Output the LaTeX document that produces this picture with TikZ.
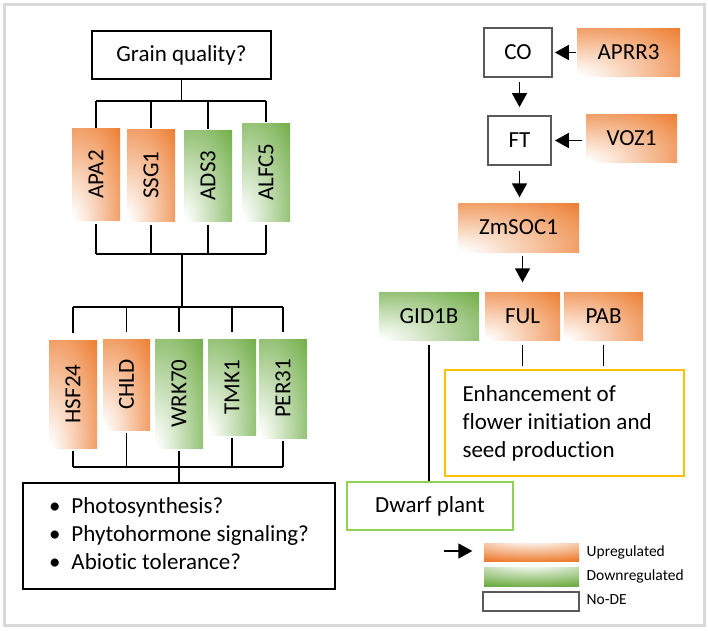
\documentclass[tikz,border=0pt]{standalone}
\usepackage{fontspec}
\setmainfont{Carlito}[Ligatures=NoCommon]
\usepackage{graphicx}
\usetikzlibrary{arrows.meta}
\definecolor{upor}{HTML}{ED7D31}
\definecolor{downgr}{HTML}{70AD47}
\definecolor{nodegr}{HTML}{595959}
\definecolor{enhor}{HTML}{FFC000}
\definecolor{dwarfgr}{HTML}{92D050}
\pgfdeclareradialshading{upshade}{\pgfpoint{-30bp}{-30bp}}{color(0bp)=(white); color(6bp)=(white); color(55bp)=(upor); color(100bp)=(upor)}
\pgfdeclareradialshading{downshade}{\pgfpoint{-30bp}{-30bp}}{color(0bp)=(white); color(6bp)=(white); color(55bp)=(downgr); color(100bp)=(downgr)}
\pgfdeclareradialshading{uplegend}{\pgfpoint{0bp}{45bp}}{color(0bp)=(white); color(8bp)=(white); color(50bp)=(upor); color(100bp)=(upor)}
\pgfdeclareradialshading{downlegend}{\pgfpoint{0bp}{45bp}}{color(0bp)=(white); color(8bp)=(white); color(50bp)=(downgr); color(100bp)=(downgr)}
\begin{document}
\begin{tikzpicture}[x=1pt, y=-1pt, line width=1.4pt, font=\fontsize{23}{28}\selectfont,
  every node/.style={inner sep=0pt},
  upgene/.style={shading=upshade},
  downgene/.style={shading=downshade},
  plainbox/.style={draw=black, line width=1.6pt},
  nodebox/.style={draw=nodegr, line width=1.8pt},
  arr/.style={-{Triangle[width=15pt,length=14pt]}, line width=1.6pt},
  legtext/.style={anchor=west, font=\fontsize{15.5}{18}\selectfont}]
\useasboundingbox (0,0) rectangle (708,630);
\fill[white] (0,0) rectangle (708,630);
\draw[line width=3pt, black!15] (4,4) rectangle (704,625);
\node[plainbox, minimum width=179pt, minimum height=48pt] (grain) at (181.5,55) {Grain quality?};
\node[upgene, minimum width=48pt, minimum height=92pt] (APA2) at (96,174.5) {\rotatebox{90}{APA2}};
\node[upgene, minimum width=48pt, minimum height=92pt] (SSG1) at (151,175) {\rotatebox{90}{SSG1}};
\node[downgene, minimum width=48pt, minimum height=91pt] (ADS3) at (208,175.5) {\rotatebox{90}{ADS3}};
\node[downgene, minimum width=48pt, minimum height=98pt] (ALFC5) at (266,172) {\rotatebox{90}{ALFC5}};
\node[upgene, minimum width=48pt, minimum height=108pt] (HSF24) at (73,394) {\rotatebox{90}{HSF24}};
\node[upgene, minimum width=47pt, minimum height=91pt] (CHLD) at (126.5,384.5) {\rotatebox{90}{CHLD}};
\node[downgene, minimum width=48pt, minimum height=109pt] (WRK70) at (179,393.5) {\rotatebox{90}{WRK70}};
\node[downgene, minimum width=48pt, minimum height=96pt] (TMK1) at (232,387) {\rotatebox{90}{TMK1}};
\node[downgene, minimum width=48pt, minimum height=99pt] (PER31) at (283,388.5) {\rotatebox{90}{PER31}};
\node[plainbox, minimum width=312pt, minimum height=106pt] (roles) at (179,536) {\begin{tabular}{@{}l@{\hspace{11pt}}l@{}}\textbullet & Photosynthesis?\\ \textbullet & Phytohormone signaling?\\ \textbullet & Abiotic tolerance?\end{tabular}};
\coordinate (busA) at (181.5,101);
\coordinate (busB) at (182,254);
\coordinate (busC) at (182,307);
\coordinate (busD) at (179,467);
\draw (grain) -- (busA);
\draw (APA2.north |- busA) -- (ALFC5.north |- busA);
\foreach \g in {APA2,SSG1,ADS3,ALFC5} {
  \draw (\g.north |- busA) -- (\g.north);
  \draw[shorten <=3pt] (\g.south) -- (\g.south |- busB);
}
\draw (APA2.south |- busB) -- (ALFC5.south |- busB);
\draw (busB) -- (busC);
\draw (HSF24.north |- busC) -- (PER31.north |- busC);
\foreach \g in {HSF24,CHLD,WRK70,TMK1,PER31} {
  \draw[shorten >=6pt] (\g.north |- busC) -- (\g.north);
  \draw[shorten <=2pt] (\g.south) -- (\g.south |- busD);
}
\draw (HSF24.south |- busD) -- (PER31.south |- busD);
\draw (busD) -- (roles.north);
\node[nodebox, minimum width=68pt, minimum height=49pt] (CO) at (518,52.5) {CO};
\node[upgene, minimum width=103pt, minimum height=48pt] (APRR3) at (628.5,52) {APRR3};
\node[nodebox, minimum width=63pt, minimum height=49pt] (FT) at (519.5,140.5) {FT};
\node[upgene, minimum width=91pt, minimum height=48pt] (VOZ1) at (631.5,138) {VOZ1};
\node[upgene, minimum width=121pt, minimum height=49pt] (ZmSOC1) at (518.5,227.5) {ZmSOC1};
\node[downgene, minimum width=100pt, minimum height=48pt] (GID1B) at (429,316) {GID1B};
\node[upgene, minimum width=75pt, minimum height=48pt] (FUL) at (522.5,316) {FUL};
\node[upgene, minimum width=79pt, minimum height=48pt] (PAB) at (603.5,316) {PAB};
\node[draw=enhor, line width=1.6pt, minimum width=239pt, minimum height=106pt, text width=204pt, align=flush left] (enh) at (564.5,423) {Enhancement of\\ flower initiation and\\ seed production};
\node[draw=dwarfgr, line width=1.6pt, minimum width=166pt, minimum height=48pt] (dwarf) at (430,506) {Dwarf plant};
\draw[arr, shorten >=2pt] (APRR3.west |- CO.east) -- (CO.east);
\draw[arr, shorten <=3pt, shorten >=3pt] (VOZ1.west |- FT.east) -- (FT.east);
\draw[arr, shorten <=4pt, shorten >=8pt] (CO.south -| FT.north) -- (FT.north);
\draw[arr, shorten <=5pt, shorten >=5pt] (FT.south) -- (FT.south |- ZmSOC1.north);
\draw[arr, shorten <=3pt, shorten >=9pt] (ZmSOC1.south -| FUL.north) -- (FUL.north);
\draw[shorten <=4pt] (GID1B.south) -- (GID1B.south |- dwarf.north);
\draw[shorten <=4pt, shorten >=3pt] (FUL.south) -- (FUL.south |- enh.north);
\draw[shorten <=4pt, shorten >=3pt] (PAB.south) -- (PAB.south |- enh.north);
\node[shading=uplegend, minimum width=95pt, minimum height=18pt] (uplegend) at (531.5,552) {};
\node[shading=downlegend, minimum width=95pt, minimum height=19pt] (downlegend) at (531.5,576.5) {};
\node[nodebox, minimum width=96pt, minimum height=19pt] (nodelegend) at (531,601.5) {};
\coordinate (legtail) at (444,551);
\draw[arr, shorten >=11pt] (legtail) -- (uplegend.west |- legtail);
\node[legtext] (uptext) at (586,552) {Upregulated};
\node[legtext] (downtext) at (586,576.5) {Downregulated};
\node[legtext] (notext) at (586,600) {No-DE};
\end{tikzpicture}
\end{document}
